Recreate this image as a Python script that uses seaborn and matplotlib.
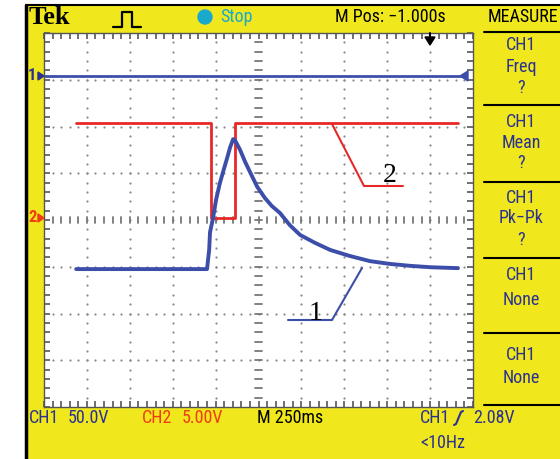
import numpy as np
import pandas as pd
import matplotlib
matplotlib.use("Agg")
import matplotlib.pyplot as plt
import seaborn as sns
from matplotlib.patches import Rectangle, Circle, Polygon

sns.set_theme(style="white")
SANS = ['Roboto Condensed', 'Liberation Sans', 'DejaVu Sans']
SERIF = ['Liberation Serif', 'DejaVu Serif']
plt.rcParams['font.family'] = SANS

# ---- data (x in divisions, 250 ms/div; y in divisions from bottom) ----
ch1_x = [0.75, 3.80, 3.85, 3.87, 3.94, 4.01, 4.10, 4.20, 4.27, 4.34, 4.41, 4.45,
         4.57, 4.69, 4.80, 4.97, 5.15, 5.31, 5.50, 5.73, 5.97, 6.32, 6.67, 7.13,
         7.60, 8.07, 8.53, 9.00, 9.65]
ch1_y = [2.95, 2.95, 3.36, 3.74, 4.04, 4.43, 4.79, 5.11, 5.33, 5.56, 5.73, 5.71,
         5.50, 5.24, 5.03, 4.71, 4.47, 4.30, 4.15, 3.89, 3.68, 3.51, 3.36, 3.23,
         3.12, 3.06, 3.02, 2.99, 2.97]
ch2_x = [0.75, 3.89, 3.89, 4.45, 4.45, 9.65]
ch2_y = [6.07, 6.07, 4.04, 4.04, 6.07, 6.07]
ref_x = [-0.1, 9.82]
ref_y = [7.08, 7.08]

menu_items = [("CH1", "Freq", "?"), ("CH1", "Mean", "?"), ("CH1", "Pk\u2212Pk", "?"),
              ("CH1", "None"), ("CH1", "None")]

YELLOW = '#F0E81C'
BLUE_T = '#3D4EAA'
BLUE_TX = '#2B3192'
RED_T = '#E82828'
RED_TX = '#F03C14'
CYAN = '#1AA8CC'
FS = 13

W, H = 560, 459
fig = plt.figure(figsize=(W / 100, H / 100), dpi=100)
fig.patch.set_facecolor('white')

# background layer in pixel coords
bg = fig.add_axes([0, 0, 1, 1], zorder=0)
bg.set_xlim(0, W); bg.set_ylim(H, 0); bg.axis('off')
bg.add_patch(Rectangle((26, 5), W - 26, H - 5, facecolor=YELLOW, edgecolor='none'))
bg.plot([26, 26], [5, H], color='black', lw=2.5)
bg.plot([26, W], [5, 5], color='black', lw=1.5)

# graticule axes
ax = fig.add_axes([44 / W, (H - 407) / H, 429 / W, 374 / H], zorder=1)
ax.set_facecolor('white')
for s in ax.spines.values():
    s.set_color('#555555'); s.set_linewidth(1.0)

dots_x, dots_y = [], []
for gx in range(1, 10):
    if gx == 5:
        continue
    for k in np.arange(0.2, 8, 0.2):
        dots_x.append(gx); dots_y.append(k)
for gy in range(1, 8):
    if gy == 4:
        continue
    for k in np.arange(0.2, 10, 0.2):
        dots_x.append(k); dots_y.append(gy)
ax.scatter(dots_x, dots_y, s=2.5, color='#8a8a8a', linewidths=0, zorder=1)
for k in np.arange(0.2, 8, 0.2):
    ax.plot([4.93, 5.07], [k, k], color='#777777', lw=1.3, zorder=1)
for k in np.arange(0.2, 10, 0.2):
    ax.plot([k, k], [3.94, 4.06], color='#777777', lw=1.3, zorder=1)

df1 = pd.DataFrame({'t': ch1_x, 'v': ch1_y})
df2 = pd.DataFrame({'t': ch2_x, 'v': ch2_y})
dfr = pd.DataFrame({'t': ref_x, 'v': ref_y})
sns.lineplot(data=dfr, x='t', y='v', ax=ax, color=BLUE_T, lw=2.0, sort=False, estimator=None)
sns.lineplot(data=df2, x='t', y='v', ax=ax, color=RED_T, lw=2.0, sort=False, estimator=None)
sns.lineplot(data=df1, x='t', y='v', ax=ax, color=BLUE_T, lw=2.8, sort=False, estimator=None)
ax.set_xlabel(''); ax.set_ylabel('')
ax.set_xlim(0, 10); ax.set_ylim(0, 8)
ax.set_xticks(np.arange(0, 10.01, 1)); ax.set_yticks(np.arange(0, 8.01, 1))
ax.set_xticks(np.arange(0, 10.01, 0.2), minor=True)
ax.set_yticks(np.arange(0, 8.01, 0.2), minor=True)
ax.tick_params(which='both', direction='in', top=True, right=True, bottom=True, left=True,
               labelbottom=False, labelleft=False, length=4, width=1.2, color='#555555')

# overlay layer
ov = fig.add_axes([0, 0, 1, 1], zorder=3)
ov.set_xlim(0, W); ov.set_ylim(H, 0); ov.axis('off'); ov.patch.set_alpha(0)

# top bar
ov.text(29, 17, "Tek", family=SERIF, fontweight='bold', fontsize=19, color='black', va='center', ha='left')
ov.plot([113, 122, 122, 132, 132, 141], [27, 27, 12, 12, 27, 27], color='black', lw=1.6)
ov.add_patch(Circle((205, 17), 7, color=CYAN))
ov.text(220, 17, "Stop", fontsize=FS, color=CYAN, va='center', ha='left')
ov.text(335, 17, "M Pos: \u22121.000s", fontsize=FS, color='black', va='center', ha='left')
ov.text(488, 17, "MEASURE", fontsize=FS, color='black', va='center', ha='left')

# right menu
seps = [32, 105, 182, 258, 333, 405]
for yv in seps:
    ov.plot([484, W], [yv, yv], color='black', lw=1.5)
centers = [(45, 67, 88), (122, 143, 163), (198, 218, 240), (275, 300), (355, 378)]
for item, ys in zip(menu_items, centers):
    for txt, yy in zip(item, ys):
        ov.text(521, yy, txt, fontsize=FS, color=BLUE_TX, va='center', ha='center')

# bottom bar
ov.text(29, 418, "CH1", fontsize=FS, color=BLUE_TX, va='center', ha='left')
ov.text(68, 418, "50.0V", fontsize=FS, color=BLUE_TX, va='center', ha='left')
ov.text(142, 418, "CH2", fontsize=FS, color=RED_TX, va='center', ha='left')
ov.text(182, 418, "5.00V", fontsize=FS, color=RED_TX, va='center', ha='left')
ov.text(257, 418, "M 250ms", fontsize=FS, color='black', va='center', ha='left')
ov.text(420, 418, "CH1", fontsize=FS, color=BLUE_TX, va='center', ha='left')
ov.plot([454, 456, 461, 463], [425, 424, 412, 411], color=BLUE_TX, lw=1.5)
ov.text(473, 418, "2.08V", fontsize=FS, color=BLUE_TX, va='center', ha='left')
ov.text(420, 443, "<10Hz", fontsize=FS, color=BLUE_TX, va='center', ha='left')

# channel markers
ov.text(28, 76, "1", fontsize=12, color=BLUE_TX, va='center', ha='left', fontweight='bold')
ov.add_patch(Polygon([[44, 76], [38, 72], [38, 80]], closed=True, color=BLUE_TX))
ov.text(28, 218, "2", fontsize=12, color=RED_TX, va='center', ha='left', fontweight='bold')
ov.add_patch(Polygon([[44, 218], [38, 214], [38, 222]], closed=True, color=RED_TX))
ov.add_patch(Polygon([[460, 76], [468, 71], [468, 81]], closed=True, color=BLUE_T))
ov.add_patch(Polygon([[425, 37], [435, 37], [430, 45]], closed=True, color='black'))
ov.plot([430, 430], [33, 38], color='black', lw=1.5)

# annotation leaders and labels
ov.plot([332, 364, 403], [124, 186, 186], color=RED_T, lw=1.5)
ov.text(390, 175, "2", family=SERIF, fontsize=20, color='black', va='center', ha='center')
ov.plot([362, 332, 288], [268, 320, 320], color=BLUE_T, lw=1.5)
ov.text(316, 314, "1", family=SERIF, fontsize=20, color='black', va='center', ha='center')

fig.savefig("out.png", dpi=100, facecolor=fig.get_facecolor())
